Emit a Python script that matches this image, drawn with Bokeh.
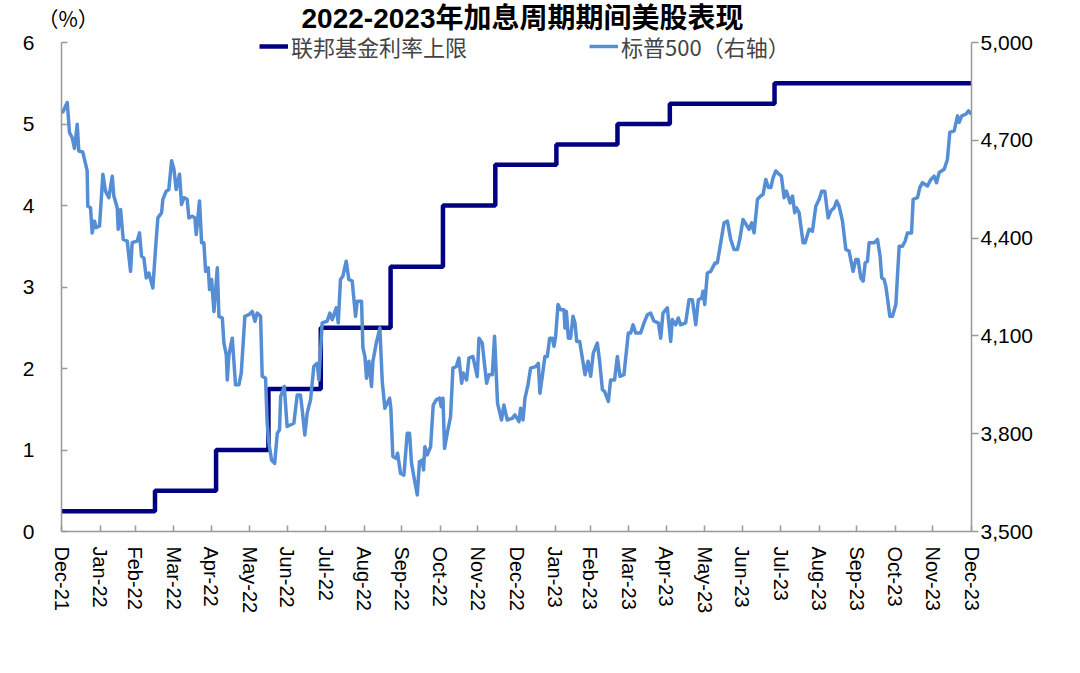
import pandas as pd
from bokeh.embed import file_html
from bokeh.models import (DatetimeTickFormatter, FixedTicker, Label, Legend, LegendItem,
                          LinearAxis, NumeralTickFormatter, Range1d)
from bokeh.plotting import figure
from bokeh.resources import INLINE

start = pd.Timestamp("2021-12-31")
end = pd.Timestamp("2023-12-31")

# Fed funds target upper bound, date of each change (%)
fed_dates = ["2021-12-31", "2022-03-16", "2022-05-04", "2022-06-15", "2022-07-27",
             "2022-09-21", "2022-11-02", "2022-12-14", "2023-02-01", "2023-03-22",
             "2023-05-03", "2023-07-26", "2023-12-31"]
fed_upper = [0.25, 0.5, 1.0, 1.75, 2.5, 3.25, 4.0, 4.5, 4.75, 5.0, 5.25, 5.5, 5.5]

# S&P 500: days after 2021-12-31 and index level
sp_days = [0, 1.1, 4.6, 6.4, 8.6, 10.4, 12.6, 13.9, 17.1, 20.6, 21.1, 23.3, 24.6, 26.5, 27.8,
           30.5, 33.2, 35.3, 38.0, 40.7, 42.0, 44.7, 45.5, 47.4, 49.5, 52.7, 55.4, 56.7, 60.7,
           62.6, 64.2, 66.1, 68.0, 70.1, 73.3, 75.4, 77.3, 80.3, 81.3, 84.0, 86.1, 88.3, 90.2,
           92.0, 94.7, 96.3, 98.2, 100.8, 102.2, 104.9, 107.0, 108.1, 110.7, 112.4, 114.2,
           115.6, 117.7, 118.8, 120.4, 122.3, 125.0, 126.3, 129.0, 130.3, 132.2, 133.0, 134.3,
           137.0, 139.6, 142.3, 144.2, 147.1, 150.3, 153.0, 155.2, 157.0, 159.7, 161.0, 163.7,
           165.0, 166.4, 168.5, 171.0, 173.1, 174.9, 175.8, 178.7,
           181.0, 186.4, 189.1, 191.7, 193.1, 195.2, 197.1, 199.8, 202.4, 205.1, 206.5, 209.1,
           213.1, 215.3, 217.2, 220.4, 222.0, 223.8, 225.7, 228.4, 230.5, 233.2, 235.9, 237.2,
           240.7, 241.8, 243.4, 244.7, 246.6, 248.7, 249.8, 252.5, 255.4, 257.3, 259.4, 263.2,
           264.2, 265.8, 268.5, 269.6, 272.0, 274.7, 277.3, 279.2, 280.8, 282.7, 285.4, 287.2,
           289.4, 290.4, 291.5, 293.4, 296.1, 298.2, 300.6, 303.3, 304.6, 306.0, 307.3, 309.4,
           312.1, 314.0, 316.7, 318.8, 321.0, 322.3, 325.0, 326.8, 330.0, 333.5, 334.9, 337.5,
           341.0, 342.9, 345.6, 347.4, 349.8, 353.0, 354.9, 357.6, 361.6, 363.7,
           367.0, 368.3, 370.2, 371.8, 374.2, 376.3, 380.4, 382.5, 383.8, 385.7, 387.8, 389.7,
           391.6, 393.7, 395.1, 396.4, 398.3, 400.4, 403.1, 403.9, 405.0, 406.6, 408.4, 410.3,
           411.9, 413.3, 415.7, 417.8, 420.0, 422.4, 424.5, 426.6, 429.8, 431.7, 433.9, 435.7,
           438.7, 440.5, 443.7, 445.9, 448.0, 451.2, 454.7, 456.6, 458.5, 460.6, 464.6, 467.3,
           470.0, 472.6, 475.3, 478.8, 480.7, 482.5, 486.0, 488.7, 490.0, 492.7, 494.8, 496.7,
           500.7, 503.4, 506.1, 508.8, 510.9, 513.6, 514.6, 516.0, 518.1, 520.8, 524.3, 526.1,
           528.8, 531.5, 534.2, 536.8, 539.5, 542.2, 544.1, 546.7,
           551.6, 553.7, 555.6, 558.3, 560.9, 562.8, 565.0, 567.1, 569.0, 570.8, 573.0, 575.7,
           577.5, 579.7, 581.5, 584.5, 586.4, 588.2, 589.6, 591.7, 594.9, 596.5, 599.7, 602.4,
           605.1, 607.8, 609.9, 612.3, 615.0, 617.1, 619.8, 621.9, 623.8, 626.5, 629.2, 631.8,
           635.0, 637.2, 639.0, 641.2, 643.1, 644.7, 646.5, 647.9, 651.9, 654.6, 656.7, 658.0,
           659.9, 661.3, 664.5, 666.6, 669.3, 670.6, 672.0, 674.6, 676.8, 678.6, 681.9, 683.2,
           686.7, 688.5, 690.7, 694.7, 697.4, 700.0, 701.9, 704.1, 708.1, 710.7, 712.6, 716.1,
           718.8, 720.1, 722.2, 725.5, 727.6, 730.0]
sp500 = [4796, 4787, 4816, 4724, 4708, 4675, 4749, 4667, 4664, 4606, 4498, 4493, 4416, 4452, 4432,
         4437, 4596, 4544, 4524, 4590, 4529, 4493, 4427, 4488, 4396, 4391, 4298, 4386, 4391,
         4416, 4345, 4339, 4278, 4293, 4247, 4365, 4462, 4478, 4519, 4544, 4549, 4637, 4611,
         4549, 4596, 4503, 4524, 4519, 4462, 4467, 4462, 4411, 4514, 4386, 4386,
         4298, 4309, 4242, 4273, 4175, 4309, 4160, 4155, 4078, 4042, 3965, 4042,
         4093, 3950, 3950, 3986, 4160, 4165, 4175, 4145, 4170, 4160, 3976, 3970,
         3832, 3771, 3719, 3709, 3801, 3812, 3914, 3945,
         3822, 3832, 3919, 3919, 3873, 3796, 3863, 3904, 4006, 4016, 3965, 4140,
         4145, 4170, 4150, 4186, 4140, 4273, 4283, 4329, 4273, 4268, 4160, 4206,
         4206, 4063, 4037, 3970, 4022, 3945, 4022, 4078, 4124, 3960, 3878, 3909,
         3878, 3730, 3724, 3740, 3678, 3673, 3801, 3801, 3709, 3668, 3612, 3714,
         3719, 3689, 3760, 3735, 3760, 3888, 3904, 3909, 3883, 3909, 3755, 3801,
         3852, 4001, 4006, 4032, 3955, 3986, 3965, 4032, 4037, 3975, 4093, 4078,
         3955, 3981, 3981, 4099, 3893, 3842, 3888, 3842, 3847, 3858,
         3837, 3878, 3842, 3909, 3950, 4001, 4006, 4016, 3924, 3976, 4037, 4037,
         4093, 4093, 4068, 4099, 4196, 4180, 4180, 4124, 4175, 4093, 4093, 4160,
         4140, 4083, 4083, 4032, 3981, 4022, 3976, 4047, 4078, 4022, 3935, 3929,
         3899, 3965, 3965, 4037, 3976, 3981, 4109, 4109, 4134, 4109, 4109, 4140,
         4165, 4170, 4145, 4140, 4093, 4170, 4186, 4083, 4150, 4134, 4155, 4134,
         4140, 4211, 4211, 4134, 4211, 4216, 4237, 4196, 4293, 4298, 4324, 4324,
         4385, 4447, 4452, 4396, 4365, 4365, 4396, 4457,
         4427, 4447, 4416, 4519, 4529, 4534, 4580, 4555, 4555, 4585, 4606, 4596,
         4590, 4524, 4544, 4508, 4529, 4478, 4493, 4478, 4386, 4386, 4427, 4421,
         4498, 4519, 4544, 4544, 4462, 4483, 4493, 4514, 4498, 4452, 4365, 4360,
         4298, 4334, 4334, 4278, 4268, 4324, 4329, 4386, 4386, 4396, 4344, 4278,
         4273, 4252, 4160, 4160, 4196, 4283, 4375, 4375, 4391, 4416, 4416, 4519,
         4524, 4555, 4570, 4560, 4580, 4590, 4570, 4601, 4611, 4642, 4724, 4729,
         4775, 4755, 4775, 4780, 4790, 4780]

left_ticks = [0, 1, 2, 3, 4, 5, 6]
right_ticks = [3500, 3800, 4100, 4400, 4700, 5000]

title = "2022-2023年加息周期期间美股表现"
fed_label = "联邦基金利率上限"
sp_label = "标普500（右轴）"
unit_label = "（%）"

FONT = "Liberation Sans, Noto Sans CJK SC"
CJK_FONT = "Noto Sans CJK SC, Liberation Sans"
GREY = "#999999"

fed_x = pd.to_datetime(fed_dates)
sp_x = start + pd.to_timedelta(sp_days, unit="D")
month_ends = [start + pd.offsets.MonthEnd(i) for i in range(25)]

# frame runs up to the top of the canvas so title and legend are not clipped;
# the axes themselves stop at 6 / 5,000
top = 531 / 81.5
p = figure(width=1072, height=665, x_axis_type="datetime",
           x_range=Range1d(start, end), y_range=Range1d(0, top),
           output_backend="svg", toolbar_location=None,
           min_border_left=61, min_border_right=101, min_border_top=0, min_border_bottom=134)
p.extra_y_ranges = {"spx": Range1d(3500, 3500 + top * 250)}
p.outline_line_color = None
p.grid.visible = False

r_fed = p.step(fed_x, fed_upper, mode="after", line_color="#000080", line_width=4.5)
r_sp = p.line(sp_x, sp500, y_range_name="spx", line_color="#558ED5", line_width=3.5,
              line_join="round")

# bottom date axis
xa = p.xaxis[0]
xa.ticker = FixedTicker(ticks=[t.value // 10**6 for t in month_ends])
fmt = "%b-%y"
xa.formatter = DatetimeTickFormatter(microseconds=fmt, milliseconds=fmt, seconds=fmt, minsec=fmt,
                                     minutes=fmt, hourmin=fmt, hours=fmt, days=fmt,
                                     months=fmt, years=fmt)
xa.major_label_orientation = "vertical"

# left axis
ya = p.yaxis[0]
ya.ticker = FixedTicker(ticks=left_ticks)
ya.bounds = (0, 6)

# right axis
ra = LinearAxis(y_range_name="spx", ticker=FixedTicker(ticks=right_ticks),
                formatter=NumeralTickFormatter(format="0,0"), bounds=(3500, 5000))
p.add_layout(ra, "right")

for ax in (xa, ya, ra):
    ax.axis_line_color = GREY
    ax.axis_line_width = 1.5
    ax.major_tick_line_color = GREY
    ax.major_tick_line_width = 1.5
    ax.minor_tick_line_color = None
    ax.major_label_text_font = FONT
    ax.major_label_text_color = "black"
    ax.major_label_text_font_size = "21px"

xa.major_tick_in = 6
xa.major_tick_out = 0
xa.major_label_standoff = 15
xa.major_label_text_font_size = "20px"
ya.major_tick_in = 6
ya.major_tick_out = 0
ya.major_label_standoff = 27
ra.major_tick_in = 0
ra.major_tick_out = 7
ra.major_label_standoff = 2

legend = Legend(items=[LegendItem(label=fed_label, renderers=[r_fed]),
                       LegendItem(label=sp_label, renderers=[r_sp])],
                orientation="horizontal", location=(198, 469),
                label_text_font=CJK_FONT, label_text_font_size="22px",
                glyph_width=29, glyph_height=22, label_height=22, label_standoff=3,
                spacing=122, padding=0, margin=0,
                background_fill_alpha=0, border_line_color=None)
p.add_layout(legend)

p.add_layout(Label(x=461, y=6.294, x_units="screen", text=title, text_align="center",
                   text_baseline="middle", text_font=FONT, text_font_style="bold",
                   text_font_size="28px", text_color="black"))
# unit label sits above the left axis, outside the frame; a label in the
# bottom panel is not clipped, and the spare bottom border leaves room for it
p.add_layout(Label(x=-24, y=629, x_units="screen", y_units="screen", text=unit_label,
                   text_align="left", text_baseline="middle", text_font=CJK_FONT,
                   text_font_size="21px", text_color="black"), "below")

open("out.html", "w").write(file_html(p, INLINE))
